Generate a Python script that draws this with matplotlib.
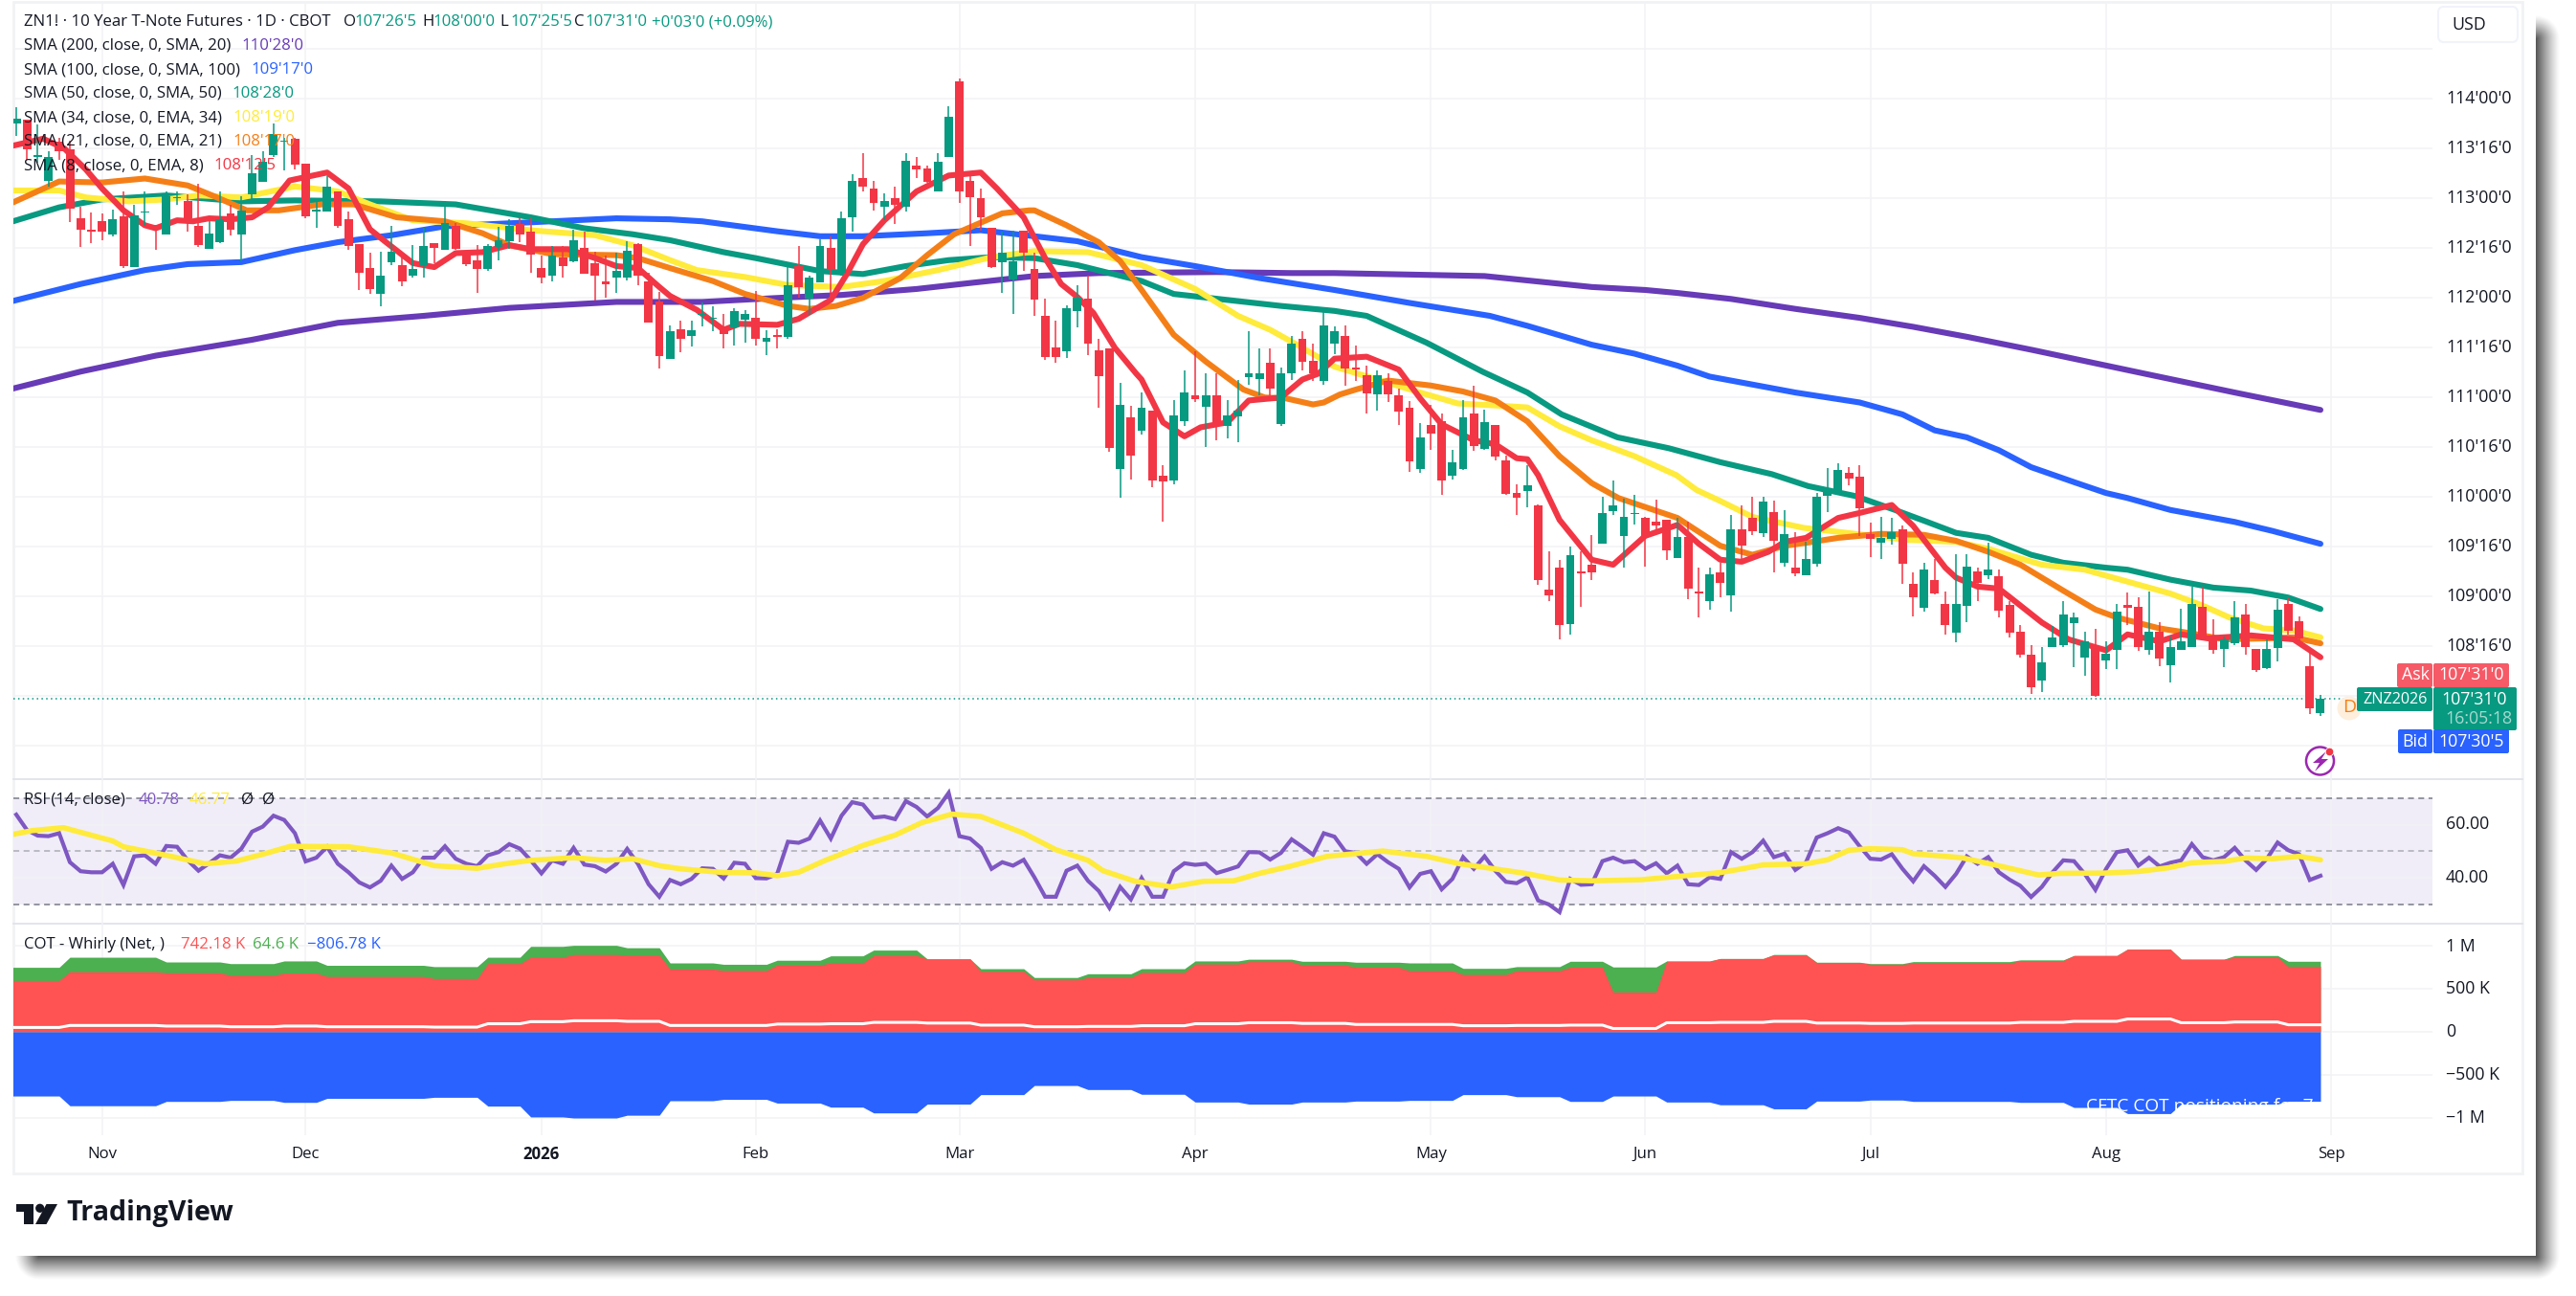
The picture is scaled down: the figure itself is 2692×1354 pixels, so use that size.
import numpy as np
import matplotlib
matplotlib.use("Agg")
import matplotlib.pyplot as plt
from matplotlib.patches import Rectangle, Circle, Polygon, FancyBboxPatch

plt.rcParams['font.family'] = ['Open Sans', 'DejaVu Sans']

W, H = 2692, 1354

# daily candles, bar 0 is mid October, bar 215 is the last one
OPENS = [113.75,113.79,113.42,113.18,113.57,113.49,112.80,112.69,112.77,112.64,112.82,112.31,112.86,112.73,112.64,113.00,112.97,112.72,112.49,112.56,
112.85,112.64,113.04,113.17,113.44,113.57,113.60,113.35,112.87,112.87,113.07,112.79,112.54,112.30,112.04,112.36,112.33,112.22,112.32,112.55,
112.48,112.72,112.47,112.38,112.29,112.51,112.57,112.74,112.67,112.30,112.22,112.41,112.37,112.50,112.35,112.17,112.20,112.20,112.54,112.17,
111.96,111.39,111.69,111.62,111.83,111.79,111.69,111.70,111.78,111.80,111.56,111.63,111.61,112.32,111.99,112.16,112.50,112.25,112.81,113.20,
113.10,112.92,113.00,112.92,113.33,113.30,113.07,113.42,114.18,113.18,113.00,112.70,112.36,112.19,112.68,112.29,111.82,111.50,111.46,111.87,
111.99,111.47,111.49,110.28,110.80,110.67,110.87,110.21,110.17,110.76,111.02,110.91,111.02,110.71,110.81,111.20,111.19,111.35,110.73,111.24,
111.59,111.37,111.17,111.54,111.62,111.30,111.22,111.03,111.17,111.02,110.90,110.28,110.72,110.76,110.21,110.28,110.84,110.48,110.72,110.37,
110.04,110.06,109.92,109.07,109.29,108.72,109.25,109.32,109.53,109.86,109.61,109.83,109.79,109.75,109.77,109.39,109.60,109.05,108.95,109.24,
109.01,109.68,109.79,109.64,109.85,109.34,109.29,109.21,109.33,110.01,110.06,110.24,110.20,109.63,109.54,109.58,109.68,109.13,108.89,109.17,
108.93,108.64,108.91,109.25,109.21,109.20,108.92,108.65,108.42,108.16,108.49,108.51,108.73,108.39,108.49,108.36,108.46,108.92,108.90,108.46,
108.65,108.31,108.46,108.49,108.90,108.60,108.47,108.53,108.82,108.47,108.28,108.48,108.93,108.75,108.30,107.83]
HIGHS = [113.92,113.79,113.74,113.47,113.61,113.58,112.92,112.86,112.85,112.89,113.07,112.94,113.07,112.73,113.07,113.07,113.04,113.15,112.77,113.07,
112.94,113.02,113.44,113.47,113.75,113.61,113.61,113.35,112.99,113.22,113.07,112.87,112.54,112.45,112.46,112.72,112.43,112.53,112.70,112.55,
112.97,112.75,112.47,112.53,112.54,112.71,112.79,112.80,112.80,112.43,112.52,112.52,112.69,112.67,112.46,112.43,112.45,112.57,112.55,112.25,
112.06,111.72,111.77,111.77,111.95,111.92,111.84,111.90,111.88,112.07,111.68,111.69,112.31,112.52,112.22,112.59,112.62,112.87,113.24,113.45,
113.18,113.05,113.12,113.45,113.42,113.33,113.45,113.93,114.20,113.23,113.10,112.70,112.67,112.68,112.68,112.45,111.99,111.77,111.93,112.13,
112.22,111.59,111.49,111.15,110.92,111.05,110.87,110.32,110.97,111.27,111.46,111.24,111.24,110.97,111.18,111.67,111.49,111.49,111.30,111.62,
111.67,111.54,111.86,111.71,111.72,111.52,111.32,111.27,111.24,111.09,110.96,110.74,110.93,110.84,110.47,110.97,111.12,110.88,110.72,110.42,
110.13,110.32,109.93,109.45,109.37,109.50,109.45,109.62,110.00,110.17,109.98,110.02,109.80,109.97,109.77,109.79,109.75,109.29,109.29,109.34,
109.82,109.92,110.00,110.00,109.96,109.87,109.65,109.55,110.04,110.29,110.34,110.30,110.32,109.74,109.80,109.79,109.71,109.24,109.34,109.38,
109.05,109.43,109.43,109.29,109.54,109.27,108.95,108.71,108.51,108.49,108.70,108.95,108.84,108.65,108.68,108.55,108.93,109.04,108.99,109.05,
108.74,108.60,108.88,109.10,109.10,108.77,108.60,108.95,108.93,108.47,108.57,108.97,108.99,108.80,108.47,108.01]
LOWS = [113.63,113.39,113.36,113.12,113.39,112.76,112.51,112.55,112.58,112.62,112.30,112.31,112.72,112.48,112.64,112.94,112.67,112.51,112.49,112.55,
112.63,112.37,112.99,113.17,113.42,113.28,113.29,112.80,112.70,112.87,112.70,112.48,112.08,112.04,111.92,112.33,112.12,112.20,112.20,112.35,
112.48,112.48,112.32,112.05,112.27,112.38,112.49,112.56,112.25,112.15,112.17,112.20,112.36,112.24,111.97,112.00,112.05,112.18,112.13,111.75,
111.29,111.39,111.45,111.51,111.71,111.67,111.49,111.52,111.55,111.52,111.43,111.49,111.59,112.00,111.83,112.16,112.00,112.22,112.67,113.07,
112.88,112.78,112.74,112.87,113.20,113.16,113.07,113.42,112.95,112.52,112.68,112.30,112.05,111.84,112.27,111.82,111.38,111.35,111.40,111.70,
111.43,110.90,110.45,109.99,110.18,110.63,110.10,109.75,110.13,110.71,110.95,110.50,110.57,110.59,110.55,111.13,111.02,111.02,110.71,111.18,
111.27,111.17,111.13,111.44,111.12,111.17,110.84,110.87,110.95,110.72,110.25,110.24,110.47,110.02,110.18,110.27,110.46,110.47,110.37,110.02,
109.82,109.90,109.12,108.95,108.57,108.62,108.90,109.17,109.53,109.82,109.29,109.72,109.30,109.66,109.37,109.39,108.97,108.79,108.87,108.99,
108.85,109.37,109.62,109.60,109.24,109.30,109.20,109.21,109.30,109.85,110.03,110.12,109.61,109.40,109.38,109.52,109.13,108.80,108.85,109.02,
108.62,108.54,108.74,108.95,109.18,108.79,108.59,108.39,108.02,108.04,108.49,108.49,108.29,108.20,107.99,108.27,108.27,108.71,108.45,108.42,
108.30,108.14,108.46,108.49,108.57,108.43,108.29,108.51,108.42,108.24,108.27,108.35,108.62,108.52,107.82,107.80]
CLOSES = [113.80,113.49,113.44,113.42,113.47,112.90,112.69,112.67,112.67,112.79,112.32,112.83,112.87,112.69,113.02,113.01,112.80,112.53,112.65,112.79,
112.69,112.88,113.25,113.37,113.65,113.58,113.34,112.82,112.89,113.12,112.72,112.52,112.25,112.09,112.22,112.46,112.17,112.29,112.52,112.50,
112.75,112.49,112.34,112.29,112.52,112.58,112.72,112.64,112.44,112.20,112.43,112.32,112.58,112.24,112.22,112.14,112.27,112.47,112.22,111.75,
111.42,111.67,111.59,111.68,111.84,111.80,111.64,111.87,111.84,111.59,111.60,111.61,112.13,112.11,112.20,112.52,112.28,112.80,113.18,113.12,
112.95,112.97,112.94,113.38,113.29,113.17,113.37,113.82,113.07,113.01,112.81,112.31,112.45,112.37,112.45,111.98,111.41,111.41,111.90,112.00,
111.54,111.21,110.49,110.93,110.42,110.90,110.17,110.16,110.82,111.05,110.98,111.02,110.73,110.82,110.87,111.24,111.24,111.09,111.24,111.54,
111.36,111.24,111.72,111.67,111.29,111.28,111.04,111.22,111.03,110.86,110.36,110.60,110.64,110.17,110.35,110.80,110.51,110.75,110.41,110.03,
109.99,110.12,109.17,109.01,108.71,109.42,109.23,109.24,109.84,109.92,109.80,109.84,109.61,109.71,109.46,109.60,109.08,109.03,109.22,109.14,
109.68,109.51,109.66,109.95,109.56,109.63,109.23,109.38,110.00,110.09,110.27,110.19,109.89,109.58,109.59,109.65,109.33,108.99,109.27,109.03,
108.71,108.93,109.30,109.14,109.27,108.86,108.64,108.42,108.09,108.34,108.59,108.82,108.79,108.55,108.00,108.43,108.85,108.89,108.49,108.65,
108.38,108.49,108.55,108.93,108.58,108.46,108.57,108.79,108.49,108.26,108.47,108.87,108.66,108.58,107.88,107.97]

SMA200_BARS = [-0.3,6,13,22,30,38,46,56,61,64,71,77,84,89,95,101,112,119,123,137,147,152,155,160,166,172,177,182,188,199,207,215]
SMA200 = [111.09,111.26,111.42,111.58,111.75,111.82,111.90,111.96,111.96,111.96,112.00,112.03,112.09,112.15,112.22,112.25,112.26,112.25,112.25,112.22,112.11,112.08,112.05,111.99,111.89,111.80,111.71,111.61,111.48,111.23,111.05,110.875]

SMA100_BARS = [-0.3,6,12,16,21,26,30,35,40,48,56,61,64,71,75,79,85,90,95,99,105,110,116,123,130,137.5,141,147,151,155,158,166,172,176,179,182,185,188,192,195,197,201,207,210.5,215]
SMA100 = [111.97,112.14,112.28,112.34,112.36,112.48,112.56,112.63,112.72,112.76,112.80,112.79,112.77,112.67,112.62,112.62,112.65,112.68,112.62,112.57,112.41,112.32,112.20,112.08,111.95,111.82,111.72,111.53,111.44,111.32,111.21,111.05,110.95,110.83,110.67,110.60,110.47,110.30,110.15,110.04,109.99,109.87,109.75,109.66,109.53]

SMA50_BARS = [-0.3,4,8,14,21,26,34,41,48,53,57.5,61,66,69,75,79,83,87,91,95,99,105,108,113,118,123,126,131.6,136.8,141,144.2,149.4,154.2,159,163.8,167.2,171.6,175.3,178.3,181,184,188,191,195,197,201,205,208.5,212,215]
SMA50 = [112.77,112.91,112.99,113.03,112.97,112.98,112.97,112.94,112.81,112.70,112.64,112.58,112.46,112.40,112.27,112.24,112.32,112.38,112.41,112.40,112.33,112.17,112.04,111.98,111.92,111.87,111.82,111.55,111.26,111.05,110.83,110.60,110.49,110.35,110.23,110.11,110.01,109.87,109.75,109.64,109.59,109.42,109.34,109.29,109.27,109.17,109.09,109.06,108.99,108.875]

EMA34_BARS = [-0.3,4,6.5,10.5,14,17,21,26,30,33,37,42,48,54,57.5,61,63.5,68,72,77,81,86,91,95,100,105,110,114,117,119.5,123,127,131,134.5,138,141,144,147,151,154.9,156.8,159,162,166.8,171.6,176.4,181,184,189,193,195,201,204,206.5,209.7,212.5,215]
EMA34 = [113.08,113.08,113.01,112.97,112.99,113.03,113.01,113.12,113.07,112.94,112.78,112.75,112.68,112.63,112.53,112.38,112.28,112.21,112.13,112.11,112.17,112.28,112.41,112.47,112.46,112.33,112.09,111.82,111.68,111.53,111.31,111.18,111.05,110.94,110.92,110.90,110.71,110.57,110.41,110.22,110.07,109.96,109.80,109.69,109.63,109.57,109.55,109.48,109.32,109.27,109.21,109.03,108.91,108.79,108.68,108.66,108.59]

EMA21_BARS = [-0.3,4,8,12,16,18.5,21.5,24.5,28.5,31.5,35.5,40,43.5,46,50,56,58,61,65,68,72,74,76.5,79,82.5,85,87.5,92,94.5,95,98,101,103,105,108,111,114.5,116.5,118.5,121,122,123.5,125,128,132,135,138,141,144,147,149.5,155,159,162,165,167,170,174,178,181,184,187,191,194,196,200,203,206,210,212.5,215]
EMA21 = [112.96,113.17,113.16,113.20,113.13,113.02,112.88,112.88,112.94,112.94,112.81,112.77,112.65,112.53,112.44,112.43,112.40,112.30,112.17,112.04,111.92,111.89,111.92,112.00,112.20,112.43,112.64,112.85,112.88,112.88,112.73,112.56,112.37,112.08,111.63,111.36,111.08,111.00,110.99,110.93,110.95,111.03,111.08,111.17,111.12,111.06,110.97,110.76,110.41,110.14,109.99,109.79,109.51,109.42,109.51,109.54,109.59,109.63,109.62,109.56,109.45,109.32,109.06,108.87,108.79,108.68,108.63,108.57,108.58,108.59,108.53]

EMA8_BARS = [-0.3,2.5,4.5,6.5,8,10,12,13,15,16.5,18,20,22,23.5,25.5,29,31,33,34.5,37,39,41,43.5,46,48,51.5,54,56,58,60,61,63.5,66,67.5,71,73,76,77.5,79,81,84,87,90,91.5,94,96,97.5,99,100.5,102.5,104.5,105,107,109,110.5,113,115,118,120,121.5,123,126,129,131,133,136,138,140,141,142,144,147,149,152,155,157,159,161,163.5,165,167,170,172,175,177,180,181,183,185,189,191.5,195,197,200,202,204.5,208.5,212.5,215]
EMA8 = [113.53,113.60,113.50,113.29,113.10,112.88,112.73,112.70,112.78,112.77,112.80,112.79,112.81,112.91,113.18,113.26,113.10,112.69,112.56,112.35,112.31,112.45,112.46,112.53,112.49,112.49,112.40,112.32,112.30,112.11,112.02,111.88,111.68,111.74,111.73,111.79,111.98,112.24,112.54,112.78,113.07,113.23,113.26,113.10,112.81,112.40,112.14,112.01,111.85,111.50,111.24,111.18,110.75,110.61,110.70,110.75,110.97,111.00,111.18,111.24,111.39,111.41,111.28,110.99,110.73,110.57,110.53,110.39,110.38,110.22,109.77,109.37,109.32,109.61,109.72,109.53,109.37,109.35,109.45,109.55,109.59,109.79,109.84,109.92,109.71,109.29,109.19,109.10,109.08,108.74,108.57,108.46,108.62,108.55,108.62,108.58,108.61,108.57,108.39]

# RSI(14), one value per bar
RSI = [63.8,58.0,55.9,55.7,56.8,45.9,42.5,42.1,42.1,45.3,37.3,48.1,48.5,45.3,52.0,51.7,46.6,42.7,45.5,48.5,
47.6,51.0,57.4,59.3,63.4,61.8,56.8,46.2,47.6,51.7,45.3,42.1,38.3,36.4,38.9,44.6,39.6,42.1,47.6,47.6,
51.9,47.2,45.3,44.4,48.5,49.7,52.7,51.0,46.6,41.7,46.6,45.3,51.3,45.0,44.4,42.4,45.3,50.9,45.3,37.6,
32.9,39.2,37.6,39.6,43.6,43.4,39.8,45.7,45.3,39.9,39.8,41.5,53.6,53.2,54.8,61.6,54.8,63.4,68.5,67.6,
62.7,63.1,62.1,68.9,66.7,63.1,66.3,72.0,55.7,54.8,51.3,43.4,45.9,44.6,46.8,40.2,32.9,32.9,42.7,44.6,
38.9,35.1,28.7,36.6,31.9,39.9,32.9,32.9,42.5,45.5,44.9,45.3,41.8,43.0,44.3,49.7,49.6,46.9,49.4,54.5,
51.7,48.7,56.8,55.5,50.0,49.4,45.3,48.9,45.9,43.4,36.4,41.5,42.5,35.7,39.6,47.8,43.4,48.1,42.7,38.5,
38.0,40.2,31.5,30.0,27.1,39.6,37.4,37.6,46.3,47.6,45.9,46.3,43.4,45.5,41.7,44.6,37.6,37.3,40.2,39.6,
49.7,47.2,49.7,54.0,47.8,49.1,43.0,45.9,55.2,56.8,58.7,57.1,51.9,47.2,46.9,48.9,43.4,38.7,44.4,40.8,
36.6,41.5,48.1,45.3,47.8,42.1,39.3,37.0,32.8,36.6,42.1,46.6,46.3,41.5,35.5,43.4,49.7,50.4,44.6,47.6,
44.3,45.7,46.6,52.7,47.8,46.6,47.8,51.3,46.6,43.0,47.2,53.3,50.4,48.9,39.2,40.78]

RSI_MA_BARS = [-0.3,1.5,4.4,9,10,14,17.6,20.5,23,25.6,31,35,39,43,45.6,48,52,55,57.5,60,62,66,69,71,73,75.5,79,82,84.5,87.3,90,94,97,100,101.4,104.4,107.8,110.8,113.6,116,118.8,122.3,127.5,131.6,134.7,140.8,144,147,151.6,155.7,159,161,163,167,169,171,173,176,177,181.5,184.6,188.7,190.7,194.8,198,200.8,203,206,208,210.5,213,215]
RSI_MA = [56.4,57.8,58.9,53.9,51.7,48.5,45.3,46.3,48.9,51.9,51.7,49.4,44.6,43.6,45.3,46.6,47.6,46.6,47.2,44.6,43.4,42.0,41.9,40.8,42.1,46.6,52.2,56.1,60.8,64.0,63.1,56.8,50.6,46.6,42.7,38.7,36.6,38.7,38.9,41.7,44.3,48.1,50.1,48.1,45.3,41.7,39.2,38.9,39.3,40.8,42.0,43.4,44.9,45.3,46.8,50.4,51.0,50.6,49.1,47.6,44.9,41.1,41.7,41.8,42.4,43.8,45.7,46.2,47.5,47.2,48.1,46.77]

# COT positioning, weekly prints (thousands), each holds from its first bar to its last
COT_FIRST = [-1,5,14,20,25,29,39,44,48,52,57,61,66,71,76,80,85,90,95,100,105,110,115,120,125,130,135,140,145,149,154,159,164,168,173,177,187,192,197,202,207,212]
COT_LAST = [4,13,19,24,28,38,43,47,51,56,60,65,70,75,79,84,89,94,99,104,109,114,119,124,129,134,139,144,148,153,158,163,167,172,176,186,191,196,201,206,211,215]
COT_GREEN = [749,866,811,792,823,772,757,866,992,1004,976,800,784,831,882,949,847,733,631,674,733,823,843,819,808,800,737,757,819,753,823,851,898,808,792,815,835,886,960,843,886,819]
COT_RED = [596,698,686,655,682,643,619,792,866,898,890,729,713,776,800,886,847,702,604,631,690,788,815,776,749,710,666,710,749,463,819,851,894,804,784,796,827,886,960,843,866,760]
COT_WHITE = [51,74,67,59,67,59,55,94,118,129,122,74,74,90,94,110,102,78,59,63,71,94,106,98,86,86,71,74,78,39,106,110,122,102,98,102,110,122,149,106,114,82]
COT_BLUE = [-745,-858,-808,-796,-819,-772,-760,-862,-988,-1000,-968,-800,-784,-827,-874,-941,-839,-729,-623,-670,-725,-815,-839,-815,-804,-796,-729,-753,-808,-745,-815,-847,-894,-804,-792,-808,-819,-878,-949,-839,-839,-806]

MONTH_BARS = [8,27,49,69,88,110,132,152,173,195,216]
MONTH_NAMES = ['Nov','Dec','2026','Feb','Mar','Apr','May','Jun','Jul','Aug','Sep']
PRICE_TICKS = [114.0,113.5,113.0,112.5,112.0,111.5,111.0,110.5,110.0,109.5,109.0,108.5]
PRICE_LABELS = ["114'00'0","113'16'0","113'00'0","112'16'0","112'00'0","111'16'0","111'00'0","110'16'0","110'00'0","109'16'0","109'00'0","108'16'0"]
LAST_PRICE = 107.969

LEGEND = [("SMA (200, close, 0, SMA, 20)", "110'28'0", '#673AB7'),
          ("SMA (100, close, 0, SMA, 100)", "109'17'0", '#2962FF'),
          ("SMA (50, close, 0, SMA, 50)", "108'28'0", '#089981'),
          ("SMA (34, close, 0, EMA, 34)", "108'19'0", '#FFEB3B'),
          ("SMA (21, close, 0, EMA, 21)", "108'17'0", '#F57F17'),
          ("SMA (8, close, 0, EMA, 8)", "108'12'5", '#F23645')]

UP = '#089981'
DOWN = '#F23645'
GRID = '#F2F3F5'
TXT = '#131722'
FS = 12.1

fig = plt.figure(figsize=(W/100, H/100), dpi=100, facecolor='white')

# pixel layer behind everything: card shadow and frame
bg = fig.add_axes([0, 0, 1, 1], zorder=0)
bg.axis('off')

# soft shadow, fades out with distance from the box it sits behind
yy, xx = np.mgrid[0:H, 0:W]
dx = np.maximum(np.maximum(40-xx, xx-2650), 0)
dy = np.maximum(np.maximum(40-yy, yy-1312), 0)
dist = np.hypot(dx, dy)
shadow = np.zeros((H, W, 4))
shadow[..., 3] = 0.66*np.clip(1-dist/25, 0, 1)**1.25
bg.imshow(shadow, extent=(0, W, H, 0), aspect='auto', zorder=1, interpolation='nearest')
bg.set_xlim(0, W)
bg.set_ylim(H, 0)
bg.add_patch(Rectangle((0, 0), 2650, 1312, fc='white', ec='none', zorder=2))
bg.add_patch(Rectangle((14, 2), 2622, 1224, fc='none', ec='#F1F2F4', lw=2, zorder=3))
bg.plot([14, 2636], [814, 814], color='#E0E3EB', lw=1.3, zorder=3)
bg.plot([14, 2636], [965, 965], color='#E0E3EB', lw=1.3, zorder=3)

def pane(top, bottom):
    return fig.add_axes([14/W, 1-bottom/H, (2542-14)/W, (bottom-top)/H], zorder=2, facecolor='none')

def style(ax):
    ax.set_xlim(-0.27, 225.45)
    ax.set_xticks(MONTH_BARS)
    ax.set_xticklabels([])
    ax.tick_params(length=0, labelleft=False, labelbottom=False)
    for s in ax.spines.values():
        s.set_visible(False)
    ax.grid(True, color=GRID, lw=1.1)
    ax.set_axisbelow(True)

# main price pane
ax = pane(2, 814)
style(ax)
ax.set_ylim(107.166, 114.974)
ax.set_yticks(np.arange(107.5, 115, 0.5))

for bars, vals, col in [(SMA200_BARS, SMA200, '#673AB7'), (SMA100_BARS, SMA100, '#2962FF'),
                        (SMA50_BARS, SMA50, '#089981'), (EMA34_BARS, EMA34, '#FFEB3B'),
                        (EMA21_BARS, EMA21, '#F57F17'), (EMA8_BARS, EMA8, '#F23645')]:
    ax.plot(bars, vals, color=col, lw=4.4, solid_joinstyle='round', solid_capstyle='round', zorder=3)

opens = np.array(OPENS)
closes = np.array(CLOSES)
idx = np.arange(len(opens))
cols = np.where(closes >= opens, UP, DOWN)
ax.vlines(idx, LOWS, HIGHS, colors=cols, lw=1.1, zorder=4)
ax.bar(idx, np.abs(closes-opens), bottom=np.minimum(opens, closes), width=0.8, color=cols, zorder=5, linewidth=0)
ax.hlines(LAST_PRICE, -0.27, 225.45, colors=UP, lw=1.1, linestyles=(0, (1, 2.2)), zorder=2)

# RSI pane
rs = pane(814, 965)
style(rs)
rs.set_ylim(22.76, 77.17)
rs.set_yticks([40, 60])
rs.axhspan(30, 70, color='#F0EDF8', lw=0, zorder=0)
rs.axhline(70, color='#787B86', lw=1.1, ls=(0, (4, 3)), zorder=1)
rs.axhline(50, color='#ABADB5', lw=1.1, ls=(0, (4, 3)), zorder=1)
rs.axhline(30, color='#787B86', lw=1.1, ls=(0, (4, 3)), zorder=1)
rs.plot(idx, RSI, color='#7E57C2', lw=3, zorder=3, solid_joinstyle='miter')
rs.plot(RSI_MA_BARS, RSI_MA, color='#FFEB3B', lw=4, zorder=4, solid_capstyle='round')

# COT pane
ct = pane(965, 1186)
style(ct)
ct.set_ylim(-1200, 1255.6)
ct.set_yticks([-1000, -500, 0, 500, 1000])

def weekly(vals):
    xs, ys = [], []
    for a, b, v in zip(COT_FIRST, COT_LAST, vals):
        xs += [a, b]
        ys += [v, v]
    return xs, ys

xs, g = weekly(COT_GREEN)
xs, r = weekly(COT_RED)
xs, wh = weekly(COT_WHITE)
xs, bl = weekly(COT_BLUE)
ct.fill_between(xs, 0, g, color='#4CAF50', lw=0, zorder=2)
ct.fill_between(xs, 0, r, color='#FF5252', lw=0, zorder=3)
ct.fill_between(xs, 0, bl, color='#2962FF', lw=0, zorder=4)
ct.plot(xs, wh, color='white', lw=2.2, zorder=5)

# pixel layer on top: labels and price tags
top = fig.add_axes([0, 0, 1, 1], zorder=5, facecolor='none')
top.set_xlim(0, W)
top.set_ylim(H, 0)
top.axis('off')

def label(x, y, s, color=TXT, size=FS, ha='left', **kw):
    return top.text(x, y, s, color=color, fontsize=size, ha=ha, va='center', **kw)

# header line
label(25, 23, "ZN1! · 10 Year T-Note Futures · 1D · CBOT")
for kx, key, val in [(359, 'O', "107'26'5"), (441, 'H', "108'00'0"), (522, 'L', "107'25'5"), (600, 'C', "107'31'0")]:
    label(kx, 23, key)
    label(kx+11.5, 23, val, color=UP)
label(681, 23, "+0'03'0 (+0.09%)", color=UP)

for k, (name, val, col) in enumerate(LEGEND):
    y = 48 + 25*k
    t = label(25, y, name)
    fig.canvas.draw()
    bb = t.get_window_extent()
    label(bb.x1 + 11, y, val, color=col)

label(25, 836, "RSI (14, close)")
label(145, 836, "40.78", color='#7E57C2')
label(198, 836, "46.77", color='#FFEB3B')
label(252, 836, "Ø")
label(274, 836, "Ø")

label(25, 987, "COT - Whirly (Net, )")
label(189, 987, "742.18 K", color='#FF5252')
label(264, 987, "64.6 K", color='#4CAF50')
label(321, 987, "−806.78 K", color='#2962FF')

# white note running into the bottom of the blue area
label(2180, 1156, "CFTC COT positioning for 7", color='white', size=13.8)

# price scale
PS = 12.8
for tick, txt in zip(PRICE_TICKS, PRICE_LABELS):
    label(2556, 103.3 + (114-tick)*104, txt, size=PS)
label(2556, 861, "60.00", size=PS)
label(2556, 916.5, "40.00", size=PS)
label(2556, 988.5, "1 M", size=PS)
label(2556, 1033, "500 K", size=PS)
label(2556, 1078, "0", size=PS)
label(2556, 1123, "−500 K", size=PS)
label(2556, 1168, "−1 M", size=PS)

for b, name in zip(MONTH_BARS, MONTH_NAMES):
    label(17+11.2*b, 1206, name, ha='center', fontweight='bold' if name == '2026' else 'normal')

# USD box
top.add_patch(FancyBboxPatch((2548, 7), 83, 37, boxstyle='round,pad=0,rounding_size=6', fc='white', ec='#F0F3FA', lw=1.5))
label(2562, 26, 'USD', size=12.8)

def tag(x0, x1, y0, y1, col):
    top.add_patch(FancyBboxPatch((x0, y0), x1-x0, y1-y0, boxstyle='round,pad=0,rounding_size=2', fc=col, ec='none', zorder=3))

tag(2505, 2542, 693, 718, '#F55A66')
tag(2543, 2622, 693, 718, '#F55A66')
label(2524, 705.5, 'Ask', color='white', ha='center', zorder=4, size=PS)
label(2583, 705.5, "107'31'0", color='white', ha='center', zorder=4, size=PS)
tag(2463, 2542, 718, 743, UP)
tag(2543, 2630, 718, 763, UP)
label(2503, 731, 'ZNZ2026', color='white', ha='center', zorder=4, size=11.6)
label(2586, 731, "107'31'0", color='white', ha='center', zorder=4, size=PS)
label(2590, 751, "16:05:18", color='#A5DACF', ha='center', zorder=4, size=PS)
tag(2506, 2542, 762, 787, '#2962FF')
tag(2543, 2622, 762, 787, '#2962FF')
label(2524, 775, 'Bid', color='white', ha='center', zorder=4, size=PS)
label(2583, 775, "107'30'5", color='white', ha='center', zorder=4, size=PS)

# dividend badge and lightning snapshot marker
top.add_patch(Circle((2455, 740), 12.5, fc='#FEEFDD', ec='none', zorder=2))
label(2455, 739.5, 'D', color='#F57F17', ha='center', size=14, zorder=3)
top.add_patch(Circle((2424.5, 795), 14.5, fc='white', ec='#9C27B0', lw=1.8, zorder=3))
top.add_patch(Polygon([(2431, 785), (2417, 797), (2424, 797), (2419, 806), (2433, 793), (2426, 793)], fc='#9C27B0', ec='none', zorder=4))
top.add_patch(Circle((2434.5, 785.5), 4.3, fc='#F23645', ec='white', lw=0.6, zorder=5))

# TradingView mark
top.add_patch(Polygon([(17, 1258), (35, 1258), (35, 1279), (25, 1279), (25, 1266), (17, 1266)], fc='#131722', ec='none'))
top.add_patch(Circle((41.7, 1262.3), 4.6, fc='#131722', ec='none'))
top.add_patch(Polygon([(48.5, 1258), (60, 1258), (48.5, 1279), (37, 1279)], fc='#131722', ec='none'))
label(69.5, 1267.5, 'TradingView', size=20.6, fontweight='bold')

fig.savefig('out.png', dpi=100, facecolor='white')
